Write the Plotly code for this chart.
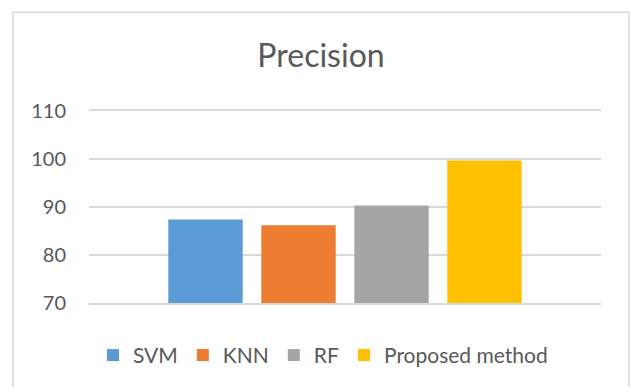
import plotly.graph_objects as go

# ---- data ----
methods = ["SVM", "KNN", "RF", "Proposed method"]
precision = [87.4, 86.2, 90.3, 99.7]
colors = ["#5B9BD5", "#ED7D31", "#A5A5A5", "#FFC000"]
y_ticks = [70, 80, 90, 100, 110]
title_text = "Precision"

# ---- layout geometry (pixels) ----
W, H = 630, 387
plot_l, plot_r, plot_t, plot_b = 89, 601, 111, 303.7
pw, ph = plot_r - plot_l, plot_b - plot_t

FONT = "Lato, 'Open Sans', sans-serif"
TXT = "#595959"
GRID = "#D9D9D9"

fig = go.Figure()
for m, v, c in zip(methods, precision, colors):
    fig.add_trace(go.Bar(x=[m], y=[v], name=m, marker=dict(color=c, line=dict(width=0)),
                         width=0.8, hoverinfo="x+y"))

# category spacing: 93 px per category, centered in plot area
unit = 93.0
half = pw / unit / 2
center = (len(methods) - 1) / 2

def px_x(p):
    return (p - plot_l) / pw

def px_y(p):
    return (plot_b - p) / ph

fig.update_layout(
    width=W, height=H,
    margin=dict(l=plot_l, r=W - plot_r, t=plot_t, b=H - plot_b, pad=0),
    paper_bgcolor="white", plot_bgcolor="white",
    barmode="overlay",
    font=dict(family=FONT, color=TXT),
    title=dict(text=title_text, x=321 / W, xanchor="center", xref="container",
               y=1 - 56 / H, yanchor="middle", yref="container",
               font=dict(size=32, color=TXT, family=FONT)),
    xaxis=dict(type="category", categoryorder="array", categoryarray=methods,
               range=[center - half, center + half], showticklabels=False,
               showgrid=False, zeroline=False, ticks="",
               showline=True, mirror=True, linecolor=GRID, linewidth=1.5),
    yaxis=dict(range=[70, 110], tickvals=y_ticks, ticktext=[str(t) for t in y_ticks],
               showgrid=True, gridcolor=GRID, gridwidth=1.5,
               zeroline=False, showline=False, ticks="",
               ticklabelstandoff=22,
               tickfont=dict(size=20, color=TXT, family=FONT)),
    legend=dict(orientation="h", x=px_x(93), xanchor="left",
                y=px_y(355), yanchor="middle", traceorder="normal",
                font=dict(size=21, color=TXT, family=FONT),
                bgcolor="rgba(0,0,0,0)", itemclick=False, itemdoubleclick=False),
    showlegend=True,
)

# chart border (Excel chart area)
fig.add_shape(type="rect", xref="paper", yref="paper",
              x0=px_x(13), x1=px_x(629), y0=px_y(420), y1=px_y(12),
              line=dict(color=GRID, width=1.5), fillcolor="rgba(0,0,0,0)",
              layer="below")

fig.write_html("out.html")
